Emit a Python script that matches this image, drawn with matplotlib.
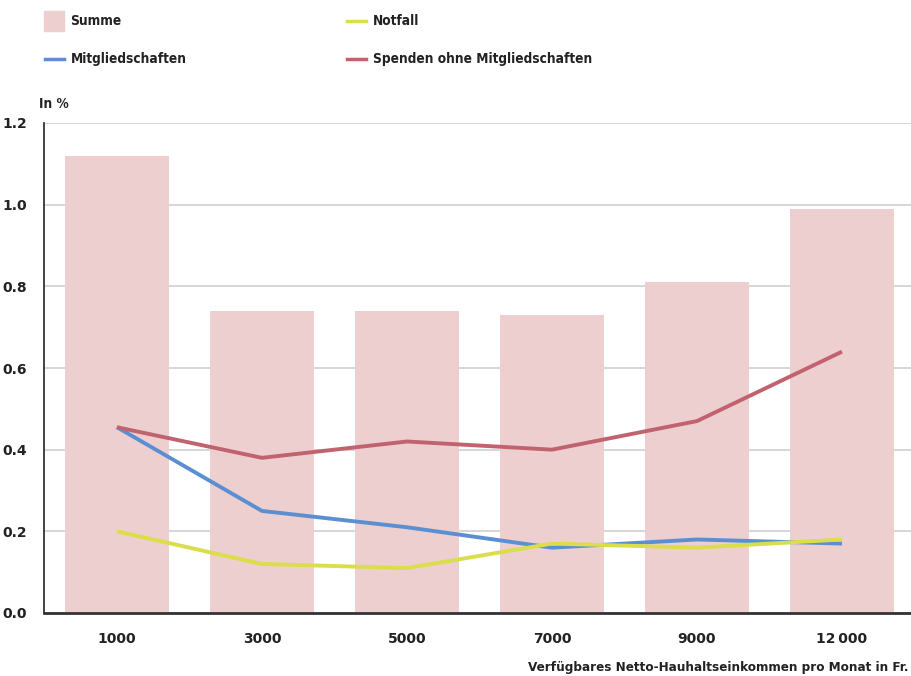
import matplotlib.pyplot as plt
from matplotlib.patches import Rectangle
from matplotlib.lines import Line2D

# income categories (Fr. per month)
categories = ["1000", "3000", "5000", "7000", "9000", "12\u2009000"]

# share of income, in %
summe = [1.12, 0.74, 0.74, 0.73, 0.81, 0.99]
mitgliedschaften = [0.455, 0.25, 0.21, 0.16, 0.18, 0.17]
spenden = [0.455, 0.38, 0.42, 0.40, 0.47, 0.64]
notfall = [0.20, 0.12, 0.11, 0.17, 0.16, 0.18]

yticks = [0.0, 0.2, 0.4, 0.6, 0.8, 1.0, 1.2]

c_bar = "#eecfcf"
c_blue = "#5b8fd2"
c_red = "#c0636f"
c_yellow = "#d9de4a"

plt.rcParams["font.family"] = ["DejaVu Sans"]
plt.rcParams["font.stretch"] = "condensed"
plt.rcParams["font.weight"] = "bold"

fig = plt.figure(figsize=(9.11, 6.76), dpi=100)
ax = fig.add_axes([44 / 911, 63 / 676, 1 - 44 / 911, 490 / 676])

x = list(range(len(categories)))
ax.bar(x, summe, width=0.72, color=c_bar, zorder=2)
ax.plot(x, mitgliedschaften, color=c_blue, lw=2.8, zorder=3, solid_capstyle="butt")
ax.plot(x, spenden, color=c_red, lw=2.8, zorder=3, solid_capstyle="butt")
ax.plot(x, notfall, color=c_yellow, lw=2.8, zorder=4, solid_capstyle="butt")

ax.set_xlim(-0.503, 5.476)
ax.set_ylim(0, 1.2)
ax.set_yticks(yticks)
ax.set_yticklabels([f"{v:.1f}" for v in yticks], fontstretch="normal",
                   fontweight="bold", fontsize=10)
ax.set_xticks(x)
ax.set_xticklabels(categories, fontstretch="normal", fontweight="bold", fontsize=10)
ax.tick_params(axis="y", length=0, pad=12, colors="#222222")
ax.tick_params(axis="x", length=0, pad=14, colors="#222222")

ax.grid(axis="y", color="#cccccc", lw=1.1, zorder=0)
ax.set_axisbelow(True)
for s in ["top", "right"]:
    ax.spines[s].set_visible(False)
ax.spines["left"].set_color("#222222")
ax.spines["left"].set_linewidth(1.2)
ax.spines["bottom"].set_color("#333333")
ax.spines["bottom"].set_linewidth(2)

# legend drawn by hand on the figure
W, H = 911, 676
fig.patches.append(Rectangle((44 / W, 1 - 31 / H), 20 / W, 20 / H,
                             transform=fig.transFigure, color=c_bar))
fig.text(70 / W, 1 - 21 / H, "Summe", va="center", fontsize=9.8, color="#222222")
legend_lines = [(347, 21, c_yellow, "Notfall"),
                (45, 59, c_blue, "Mitgliedschaften"),
                (347, 59, c_red, "Spenden ohne Mitgliedschaften")]
for lx, ly, col, txt in legend_lines:
    fig.lines.append(Line2D([lx / W, (lx + 19) / W], [1 - ly / H, 1 - ly / H],
                            transform=fig.transFigure, color=col, lw=2.5))
    fig.text((lx + 26) / W, 1 - ly / H, txt, va="center", fontsize=9.8, color="#222222")

fig.text(39 / W, 1 - 104 / H, "In %", va="center", fontsize=9.8, color="#222222")
fig.text(909 / W, 1 - 668 / H, "Verfügbares Netto-Hauhaltseinkommen pro Monat in Fr.",
         va="center", ha="right", fontsize=9.6, color="#222222")

fig.savefig("out.png", dpi=100)
